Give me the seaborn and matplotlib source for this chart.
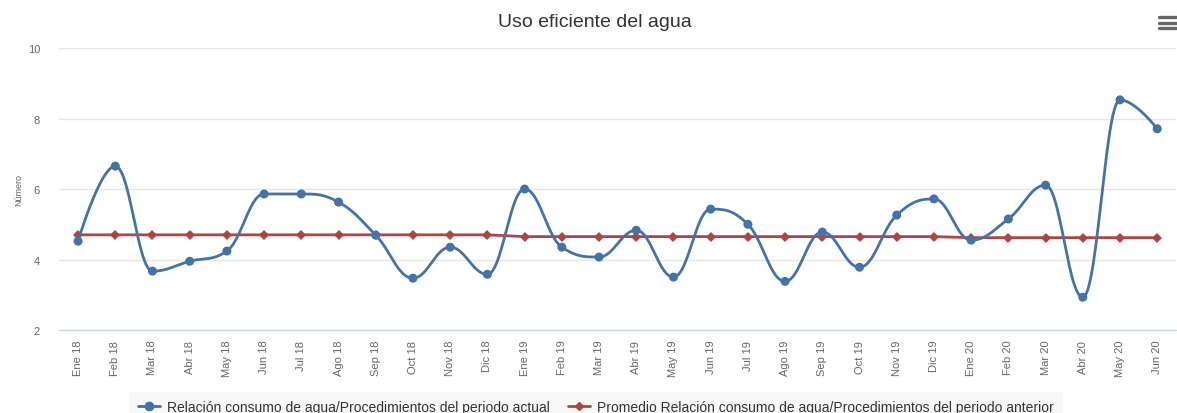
import numpy as np
import pandas as pd
import matplotlib
matplotlib.use("Agg")
import matplotlib.pyplot as plt
from matplotlib.lines import Line2D
import seaborn as sns

# datos
meses = ["Ene 18", "Feb 18", "Mar 18", "Abr 18", "May 18", "Jun 18", "Jul 18", "Ago 18",
         "Sep 18", "Oct 18", "Nov 18", "Dic 18", "Ene 19", "Feb 19", "Mar 19", "Abr 19",
         "May 19", "Jun 19", "Jul 19", "Ago 19", "Sep 19", "Oct 19", "Nov 19", "Dic 19",
         "Ene 20", "Feb 20", "Mar 20", "Abr 20", "May 20", "Jun 20"]
actual = [4.52, 6.65, 3.67, 3.95, 4.24, 5.86, 5.86, 5.63, 4.69, 3.47, 4.35, 3.58,
          6.00, 4.35, 4.07, 4.83, 3.50, 5.43, 5.00, 3.38, 4.78, 3.78, 5.26, 5.72,
          4.55, 5.15, 6.11, 2.93, 8.53, 7.71]
promedio = [4.70] * 12 + [4.65] * 12 + [4.62] * 6

nombre_actual = "Relación consumo de agua/Procedimientos del periodo actual"
nombre_prom = "Promedio Relación consumo de agua/Procedimientos del periodo anterior"

AZUL = "#4572A7"
ROJO = "#AA4643"


def spline_highcharts(xs, ys, smoothing=1.5, n=30):
    # curva tipo "spline" de Highcharts (bezier cúbica con puntos de control)
    xs = np.asarray(xs, float)
    ys = np.asarray(ys, float)
    k = len(xs)
    lc = [(xs[i], ys[i]) for i in range(k)]
    rc = [(xs[i], ys[i]) for i in range(k)]
    d = smoothing + 1
    for i in range(1, k - 1):
        lx = (smoothing * xs[i] + xs[i - 1]) / d
        ly = (smoothing * ys[i] + ys[i - 1]) / d
        rx = (smoothing * xs[i] + xs[i + 1]) / d
        ry = (smoothing * ys[i] + ys[i + 1]) / d
        corr = (ry - ly) * (rx - xs[i]) / (rx - lx) + ys[i] - ry
        ly += corr
        ry += corr
        if ly > ys[i - 1] and ly > ys[i]:
            ly = max(ys[i - 1], ys[i])
            ry = 2 * ys[i] - ly
        elif ly < ys[i - 1] and ly < ys[i]:
            ly = min(ys[i - 1], ys[i])
            ry = 2 * ys[i] - ly
        if ry > ys[i + 1] and ry > ys[i]:
            ry = max(ys[i + 1], ys[i])
            ly = 2 * ys[i] - ry
        elif ry < ys[i + 1] and ry < ys[i]:
            ry = min(ys[i + 1], ys[i])
            ly = 2 * ys[i] - ry
        lc[i] = (lx, ly)
        rc[i] = (rx, ry)
    t = np.linspace(0, 1, n)[:, None]
    partes = []
    for i in range(k - 1):
        p0 = np.array([xs[i], ys[i]])
        p1 = np.array(rc[i])
        p2 = np.array(lc[i + 1])
        p3 = np.array([xs[i + 1], ys[i + 1]])
        b = ((1 - t) ** 3) * p0 + 3 * ((1 - t) ** 2) * t * p1 + 3 * (1 - t) * t ** 2 * p2 + t ** 3 * p3
        partes.append(b if i == 0 else b[1:])
    curva = np.vstack(partes)
    return curva[:, 0], curva[:, 1]


df = pd.DataFrame({"x": np.arange(len(meses)), "mes": meses,
                   "actual": actual, "promedio": promedio})

sns.set_style("white")
plt.rcParams["font.family"] = ["Liberation Sans", "DejaVu Sans"]

fig = plt.figure(figsize=(11.77, 4.14), dpi=100)
ax = fig.add_axes([0.0505, 0.2005, 0.9485, 0.681])

# promedio (línea recta)
sns.lineplot(data=df, x="x", y="promedio", color=ROJO, linewidth=2, marker="D",
             markersize=5, markeredgewidth=0, ax=ax, zorder=3)

# actual (spline)
cx, cy = spline_highcharts(df["x"], df["actual"])
ax.plot(cx, cy, color=AZUL, linewidth=2, zorder=4)
sns.scatterplot(data=df, x="x", y="actual", color=AZUL, s=42, edgecolor="none",
                ax=ax, zorder=5)

ax.set_xlim(-0.5, len(meses) - 0.5)
ax.set_ylim(2, 10)
ax.set_yticks([2, 4, 6, 8, 10])
ax.tick_params(axis="y", length=0, labelsize=8, labelcolor="#666666", pad=14)
ax.grid(axis="y", color="#e6e6e6", linewidth=1)
ax.set_axisbelow(True)

ax.set_xticks(df["x"])
ax.set_xticklabels(meses, rotation=90, fontsize=8, color="#666666")
ax.tick_params(axis="x", length=0, pad=7)
ax.set_xticks(np.arange(-0.5, len(meses), 1), minor=True)
ax.tick_params(axis="x", which="minor", length=10, color="#ccd6eb", width=1, direction="out")

for lado in ["top", "right", "left"]:
    ax.spines[lado].set_visible(False)
ax.spines["bottom"].set_color("#ccd6eb")
ax.spines["bottom"].set_linewidth(1)

ax.set_xlabel("")
ax.set_ylabel("Número", fontsize=6.5, color="#666666", labelpad=3)

fig.text(0.505, 0.945, "Uso eficiente del agua", ha="center", va="center",
         fontsize=14, color="#333333")

# icono de menú
for yy in [0.957, 0.943, 0.929]:
    fig.add_artist(Line2D([0.9845, 0.9995], [yy, yy], color="#666666", linewidth=2.4,
                          transform=fig.transFigure))

# leyenda
manejadores = [
    Line2D([], [], color=AZUL, linewidth=2, marker="o", markersize=6),
    Line2D([], [], color=ROJO, linewidth=2, marker="D", markersize=4),
]
ley = fig.legend(manejadores, [nombre_actual, nombre_prom], loc="lower center",
                 bbox_to_anchor=(0.506, -0.04), ncol=2, frameon=True, fontsize=10,
                 handlelength=1.6, handletextpad=0.5, columnspacing=1.3,
                 borderpad=0.6, fancybox=False)
ley.get_frame().set_facecolor("#f7f7f7")
ley.get_frame().set_edgecolor("#f7f7f7")
for t in ley.get_texts():
    t.set_color("#333333")

fig.savefig("out.png", dpi=100)
